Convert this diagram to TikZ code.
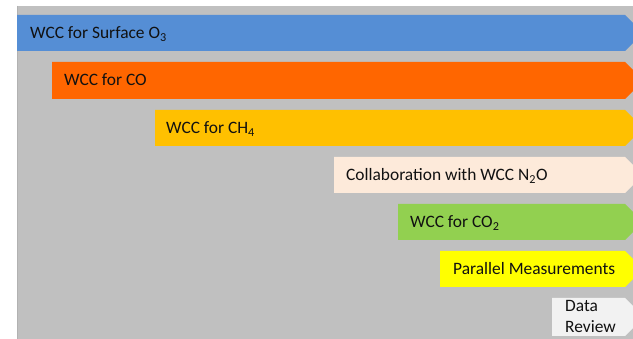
\documentclass[tikz,border=0pt]{standalone}
\usepackage{fontspec}
\setmainfont{Carlito}
\definecolor{bggray}{HTML}{C0C0C0}
\definecolor{cblue}{HTML}{558ED5}
\definecolor{corange}{HTML}{FF6600}
\definecolor{cgold}{HTML}{FFC000}
\definecolor{cpeach}{HTML}{FDEADA}
\definecolor{cgreen}{HTML}{92D050}
\definecolor{cyellow}{HTML}{FFFF00}
\definecolor{clight}{HTML}{F2F2F2}
\definecolor{ctext}{HTML}{111111}
\tikzset{
  lbl/.style={anchor=base west, inner sep=0pt, text=ctext, font=\fontsize{17.4}{21}\selectfont},
}
\newcommand{\bararrow}[4]{% color, x0, ytop, ybot
  \fill[#1] (#2,#3) -- (625,#3) -- ({625+(#4-#3)/2},{(#3+#4)/2}) -- (625,#4) -- (#2,#4) -- cycle;
}
\begin{document}
\begin{tikzpicture}[x=1pt,y=-1pt]
\useasboundingbox (0,0) rectangle (633,339);
\clip (0,0) rectangle (633,339);
\fill[white] (0,0) rectangle (633,339);
\fill[bggray] (17,6) rectangle (640,345);
\draw[color=black!30, line width=0.8pt] (17.4,6) -- (17.4,345);
\bararrow{cblue}{17}{15}{51}
\bararrow{corange}{52}{62}{99}
\bararrow{cgold}{155}{110}{146}
\bararrow{cpeach}{334}{157}{193}
\bararrow{cgreen}{398}{204}{240}
\bararrow{cyellow}{440}{251}{287}
\bararrow{clight}{552}{298}{336}
\node[lbl] (t1) at (30,39) {WCC for Surface O\textsubscript{3}};
\node[lbl] (t2) at (64,86) {WCC for CO};
\node[lbl] (t3) at (166,134) {WCC for CH\textsubscript{4}};
\node[lbl] (t4) at (346,181) {Collaboration with WCC N\textsubscript{2}O};
\node[lbl] (t5) at (410,228) {WCC for CO\textsubscript{2}};
\node[lbl] (t6) at (453,275) {Parallel Measurements};
\node[lbl] (t7a) at (565,312) {Data};
\node[lbl] (t7b) at (565,333) {Review};
\end{tikzpicture}
\end{document}
